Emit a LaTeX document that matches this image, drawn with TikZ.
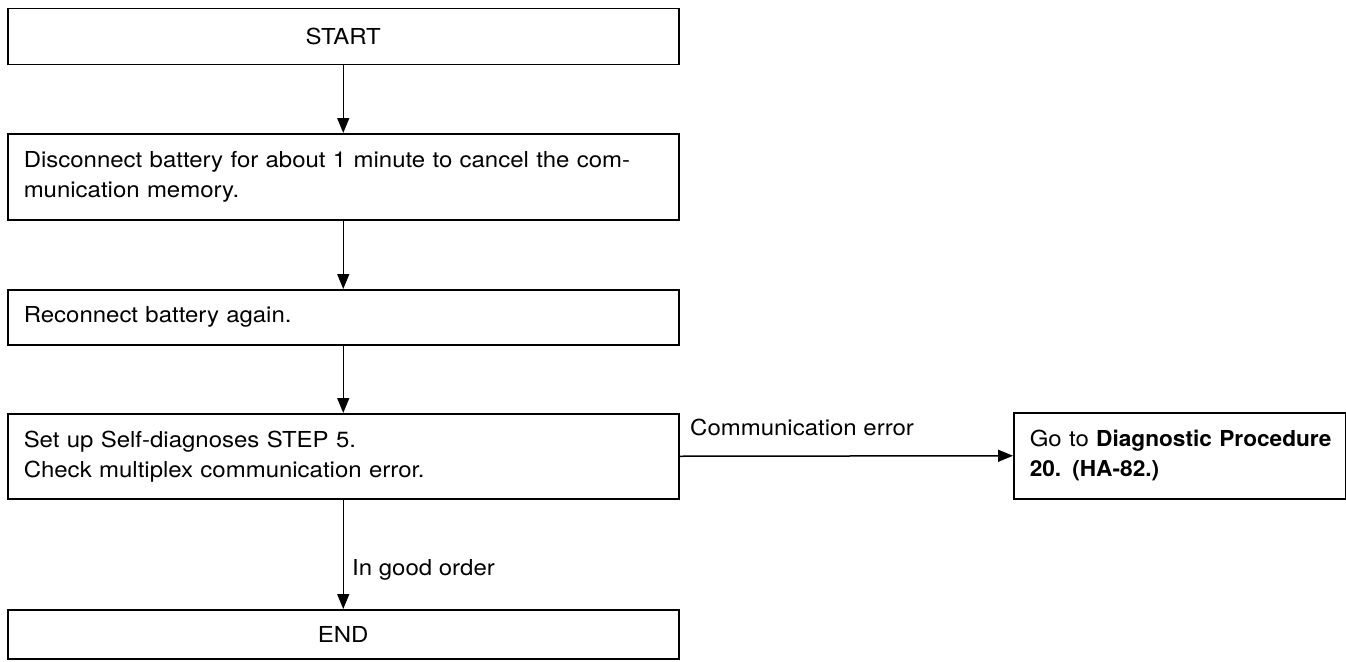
\documentclass[tikz,border=0pt]{standalone}
\usepackage{fontspec}
\setmainfont{TeX Gyre Heros}[FakeStretch=1.09]
\newfontfamily\hbold{TeX Gyre Heros}[FakeStretch=1.03]
\usetikzlibrary{arrows.meta}
\begin{document}
\begin{tikzpicture}[x=1pt,y=-1pt,
  every node/.style={font=\fontsize{22}{30}\selectfont},
  box/.style={draw, line width=1.5pt, anchor=north west, inner xsep=16pt, inner ysep=0pt, align=left},
  cbox/.style={box, align=center},
  arr/.style={line width=1.5pt, -{Triangle[length=15pt,width=12pt]}},
  lbl/.style={inner sep=0pt, anchor=base west}]
\useasboundingbox (0,0) rectangle (1346,661);
\node[cbox, minimum width=671pt, text width=639pt, minimum height=56pt] (start) at (7,8) {START};
\node[box, minimum width=671pt, text width=639pt, minimum height=86pt] (disc) at (7,133) {Disconnect battery for about 1 minute to cancel the com-\\munication memory.};
\node[box, minimum width=671pt, text width=639pt, minimum height=55pt] (recon) at (7,289) {Reconnect battery again.};
\node[box, minimum width=671pt, text width=639pt, minimum height=85pt] (setup) at (7,413) {Set up Self-diagnoses STEP 5.\\Check multiplex communication error.};
\node[box, minimum width=332pt, text width=300pt, minimum height=86pt] (goto) at (1013,412) {\mbox{Go to {\hbold\bfseries Diagnostic Procedure}}\\{\hbold\bfseries 20. (HA-82.)}};
\node[cbox, minimum width=671pt, text width=639pt, minimum height=49pt] (end) at (7,609) {END};
\draw[arr] (start.south) -- (disc.north);
\draw[arr] (disc.south) -- (recon.north);
\draw[arr] (recon.south) -- (setup.north);
\draw[arr] (setup.east) -- (goto.west);
\draw[arr] (setup.south) -- (end.north);
\node[lbl] (ce) at (690,435) {Communication error};
\node[lbl] (go) at (352,575) {In good order};
\end{tikzpicture}
\end{document}
